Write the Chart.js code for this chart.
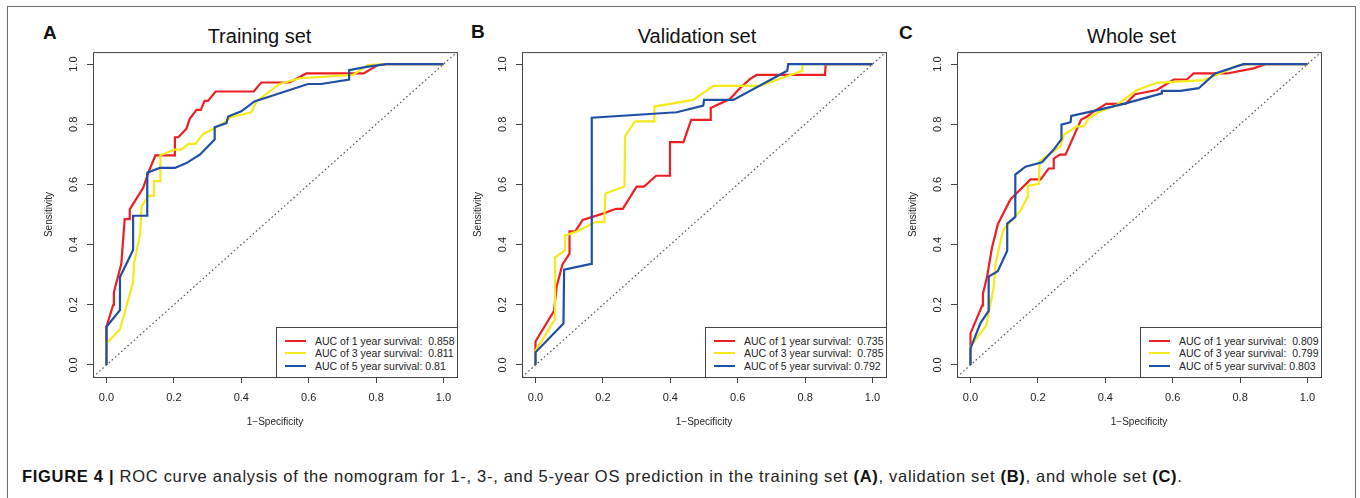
<!DOCTYPE html>
<html>
<head>
<meta charset="utf-8">
<title>ROC curves</title>
<script src="https://cdn.jsdelivr.net/npm/chart.js@4.4.1/dist/chart.umd.min.js"></script>
<style>
  html, body { margin: 0; padding: 0; background: #fff; }
  body {
    width: 1360px; height: 498px; position: relative; overflow: hidden;
    font-family: "Liberation Sans", Arial, Helvetica, sans-serif; color: #111;
  }
  .frame {
    position: absolute; left: 7px; top: 6px; width: 1349px; height: 540px;
    border: 1.5px solid #6e6e6e; box-sizing: border-box;
  }
  .panel { position: absolute; top: 40px; width: 445px; height: 400px; }
  .panel canvas { position: absolute; left: 0; top: 0; }
  .letter { position: absolute; font-weight: bold; font-size: 19px; line-height: 1; color: #111; }
  .title {
    position: absolute; font-size: 20px; line-height: 1; white-space: nowrap;
    transform: translateX(-50%); color: #111;
  }
  .legend {
    position: absolute; width: 182px; height: 51px; box-sizing: border-box;
    border: 1px solid #444; background: #fff;
  }
  .legend .row { position: absolute; left: 0; height: 12.5px; width: 100%; }
  .legend .swatch { position: absolute; left: 8px; top: 5.2px; width: 21px; height: 2.2px; }
  .legend .txt {
    position: absolute; left: 38px; top: 0; font-size: 10.5px; line-height: 12.5px;
    white-space: pre; color: #222;
  }
  .caption {
    position: absolute; left: 22px; top: 468px; font-size: 16.5px; line-height: 1;
    letter-spacing: 0.7px; white-space: nowrap; color: #222;
  }
  .caption b { font-weight: bold; color: #111; }
</style>
</head>
<body>
<div class="frame"></div>

<div class="letter" style="left:43px; top:23px;">A</div>
<div class="letter" style="left:471px; top:22px;">B</div>
<div class="letter" style="left:899px; top:23px;">C</div>

<div class="title" style="left:259.5px; top:26px;">Training set</div>
<div class="title" style="left:697px; top:26px;">Validation set</div>
<div class="title" style="left:1131.5px; top:26px;">Whole set</div>

<div class="panel" id="panelA" style="left:25px;"><canvas id="chartA" width="445" height="400"></canvas></div>
<div class="panel" id="panelB" style="left:454px;"><canvas id="chartB" width="445" height="400"></canvas></div>
<div class="panel" id="panelC" style="left:889px;"><canvas id="chartC" width="445" height="400"></canvas></div>

<div class="caption"><b>FIGURE 4 |</b> ROC curve analysis of the nomogram for 1-, 3-, and 5-year OS prediction in the training set <b>(A)</b>, validation set <b>(B)</b>, and whole set <b>(C)</b>.</div>

<script>
// axis ticks
const xTicks = [0, 0.2, 0.4, 0.6, 0.8, 1.0];
const yTicks = [0, 0.2, 0.4, 0.6, 0.8, 1.0];
const diagX = [-0.04, 1.04];
const diagY = [-0.04, 1.04];

const seriesColors = ['#ec1f22', '#f5e91a', '#1f4fa5'];

// Training set (1-specificity / sensitivity)
const trainX1 = [0, 0, 0.02, 0.022, 0.044, 0.054, 0.067, 0.069, 0.109, 0.126, 0.145, 0.203, 0.203, 0.213, 0.237, 0.247, 0.267, 0.28, 0.291, 0.301, 0.324, 0.437, 0.459, 0.543, 0.593, 0.763, 0.805, 0.83, 1.0];
const trainY1 = [0, 0.127, 0.20, 0.242, 0.336, 0.485, 0.485, 0.517, 0.589, 0.644, 0.697, 0.697, 0.757, 0.757, 0.785, 0.818, 0.848, 0.848, 0.878, 0.878, 0.909, 0.909, 0.939, 0.939, 0.969, 0.969, 0.997, 1.0, 1.0];
const trainX3 = [0, 0, 0.04, 0.079, 0.082, 0.1, 0.104, 0.124, 0.141, 0.141, 0.16, 0.16, 0.203, 0.222, 0.244, 0.264, 0.287, 0.321, 0.354, 0.366, 0.43, 0.445, 0.514, 0.573, 0.731, 0.776, 0.83, 1.0];
const trainY3 = [0, 0.072, 0.118, 0.275, 0.34, 0.435, 0.526, 0.562, 0.562, 0.611, 0.611, 0.697, 0.716, 0.716, 0.735, 0.735, 0.768, 0.787, 0.809, 0.823, 0.84, 0.876, 0.934, 0.953, 0.964, 0.997, 1.0, 1.0];
const trainX5 = [0, 0, 0.04, 0.04, 0.079, 0.079, 0.121, 0.121, 0.158, 0.203, 0.237, 0.277, 0.321, 0.321, 0.356, 0.361, 0.4, 0.439, 0.598, 0.637, 0.72, 0.72, 0.771, 0.83, 1.0];
const trainY5 = [0, 0.127, 0.182, 0.292, 0.382, 0.496, 0.496, 0.639, 0.655, 0.655, 0.671, 0.699, 0.749, 0.79, 0.804, 0.826, 0.843, 0.876, 0.934, 0.934, 0.949, 0.98, 0.991, 1.0, 1.0];
const trainLabels = ['AUC of 1 year survival:  0.858', 'AUC of 3 year survival:  0.811', 'AUC of 5 year survival: 0.81'];

// Validation set
const validX1 = [0, 0, 0, 0.055, 0.063, 0.08, 0.101, 0.101, 0.118, 0.14, 0.202, 0.239, 0.259, 0.3, 0.322, 0.358, 0.399, 0.399, 0.439, 0.462, 0.518, 0.52, 0.577, 0.602, 0.636, 0.656, 0.859, 0.861, 1.0];
const validY1 = [0, 0.053, 0.078, 0.18, 0.262, 0.334, 0.37, 0.444, 0.444, 0.482, 0.504, 0.519, 0.519, 0.593, 0.593, 0.629, 0.629, 0.741, 0.741, 0.815, 0.815, 0.854, 0.884, 0.915, 0.95, 0.964, 0.964, 1.0, 1.0];
const validX3 = [0, 0, 0.058, 0.058, 0.088, 0.088, 0.123, 0.177, 0.204, 0.207, 0.264, 0.266, 0.295, 0.352, 0.353, 0.468, 0.528, 0.666, 0.792, 0.792, 1.0];
const validY3 = [0, 0.047, 0.152, 0.358, 0.381, 0.43, 0.444, 0.475, 0.475, 0.57, 0.593, 0.761, 0.81, 0.81, 0.859, 0.881, 0.928, 0.928, 0.978, 1.0, 1.0];
const validX5 = [0, 0, 0.083, 0.085, 0.165, 0.167, 0.419, 0.498, 0.5, 0.587, 0.747, 0.75, 1.0];
const validY5 = [0, 0.042, 0.138, 0.317, 0.336, 0.822, 0.84, 0.862, 0.881, 0.881, 0.978, 1.0, 1.0];
const validLabels = ['AUC of 1 year survival:  0.735', 'AUC of 3 year survival:  0.785', 'AUC of 5 year survival: 0.792'];

// Whole set
const wholeX1 = [0, 0, 0, 0.035, 0.037, 0.049, 0.064, 0.074, 0.081, 0.119, 0.178, 0.208, 0.232, 0.245, 0.247, 0.265, 0.282, 0.328, 0.346, 0.366, 0.403, 0.46, 0.489, 0.553, 0.603, 0.642, 0.662, 0.761, 0.84, 0.875, 1.0];
const wholeY1 = [0, 0.066, 0.105, 0.198, 0.237, 0.292, 0.391, 0.435, 0.468, 0.551, 0.617, 0.617, 0.653, 0.653, 0.686, 0.699, 0.699, 0.815, 0.826, 0.843, 0.868, 0.868, 0.9, 0.914, 0.949, 0.949, 0.969, 0.969, 0.986, 1.0, 1.0];
const wholeX3 = [0, 0, 0.047, 0.069, 0.074, 0.094, 0.099, 0.148, 0.168, 0.17, 0.203, 0.205, 0.232, 0.267, 0.277, 0.316, 0.336, 0.351, 0.385, 0.435, 0.494, 0.553, 0.692, 0.741, 0.795, 0.84, 1.0];
const wholeY3 = [0, 0.061, 0.132, 0.259, 0.336, 0.435, 0.452, 0.512, 0.556, 0.595, 0.602, 0.677, 0.699, 0.727, 0.765, 0.793, 0.793, 0.82, 0.843, 0.865, 0.914, 0.938, 0.947, 0.969, 0.997, 1.0, 1.0];
const wholeX5 = [0, 0, 0.03, 0.054, 0.054, 0.081, 0.109, 0.109, 0.133, 0.133, 0.163, 0.212, 0.247, 0.27, 0.27, 0.297, 0.299, 0.38, 0.455, 0.568, 0.568, 0.623, 0.677, 0.726, 0.81, 1.0];
const wholeY5 = [0, 0.055, 0.14, 0.18, 0.294, 0.312, 0.38, 0.47, 0.492, 0.633, 0.659, 0.674, 0.716, 0.751, 0.799, 0.807, 0.828, 0.848, 0.868, 0.903, 0.911, 0.911, 0.92, 0.969, 1.0, 1.0];
const wholeLabels = ['AUC of 1 year survival:  0.809', 'AUC of 3 year survival:  0.799', 'AUC of 5 year survival: 0.803'];

const fontFamily = '"Liberation Sans", Arial, Helvetica, sans-serif';

const toPoints = (xs, ys) => xs.map((x, i) => ({x: x, y: ys[i]}));

// frame round the plotting region, like R's box()
const plotBox = {
    id: 'plotBox',
    afterDraw(chart) {
        const ctx = chart.ctx;
        const a = chart.chartArea;
        ctx.save();
        ctx.strokeStyle = '#444';
        ctx.lineWidth = 1;
        ctx.strokeRect(a.left + 0.5, a.top + 0.5, a.right - a.left, a.bottom - a.top);
        ctx.restore();
    }
};

// html legend in the lower right corner of the plot
const cornerLegend = {
    id: 'cornerLegend',
    afterRender(chart, args, opts) {
        if (chart.$legendDone) return;
        chart.$legendDone = true;
        const a = chart.chartArea;
        const box = document.createElement('div');
        box.className = 'legend';
        box.style.left = (a.right + 1 - 182) + 'px';
        box.style.top = (a.bottom + 1 - 51) + 'px';
        opts.labels.forEach((label, i) => {
            const row = document.createElement('div');
            row.className = 'row';
            row.style.top = (6.5 + 12.5 * i) + 'px';
            row.innerHTML = `<div class="swatch" style="background:${seriesColors[i]}"></div><div class="txt">${label}</div>`;
            box.appendChild(row);
        });
        chart.canvas.parentNode.appendChild(box);
    }
};

function makeChart(id, xs1, ys1, xs3, ys3, xs5, ys5, labels) {
    const lineSet = (xs, ys, idx, order) => ({
        data: toPoints(xs, ys),
        borderColor: seriesColors[idx],
        borderWidth: 2.2,
        pointRadius: 0,
        tension: 0,
        fill: false,
        order: order
    });
    return new Chart(document.getElementById(id), {
        type: 'line',
        data: {
            datasets: [
                lineSet(xs1, ys1, 0, 2),
                lineSet(xs3, ys3, 1, 1),
                lineSet(xs5, ys5, 2, 0),
                {
                    data: toPoints(diagX, diagY),
                    borderColor: '#555',
                    borderWidth: 1.2,
                    borderDash: [1.6, 2.6],
                    pointRadius: 0,
                    fill: false,
                    order: 3
                }
            ]
        },
        options: {
            responsive: false,
            animation: false,
            devicePixelRatio: 1,
            layout: {padding: {top: 11, right: 13, left: 0, bottom: 0}},
            plugins: {
                legend: {display: false},
                tooltip: {enabled: false},
                cornerLegend: {labels: labels}
            },
            scales: {
                x: {
                    type: 'linear',
                    min: -0.04,
                    max: 1.04,
                    afterBuildTicks: s => { s.ticks = xTicks.map(v => ({value: v})); },
                    afterFit: s => { s.height = 63; },
                    border: {display: false},
                    grid: {drawOnChartArea: false, tickLength: 6, tickColor: '#444', lineWidth: 1},
                    ticks: {
                        padding: 8, autoSkip: false, maxRotation: 0, color: '#222',
                        font: {size: 11, family: fontFamily},
                        callback: v => v.toFixed(1)
                    },
                    title: {
                        display: true, text: '1\u2212Specificity', color: '#222',
                        font: {size: 10, family: fontFamily},
                        padding: {top: 0, bottom: 12}
                    }
                },
                y: {
                    type: 'linear',
                    min: -0.04,
                    max: 1.04,
                    afterBuildTicks: s => { s.ticks = yTicks.map(v => ({value: v})); },
                    afterFit: s => { s.width = 68; },
                    border: {display: false},
                    grid: {drawOnChartArea: false, tickLength: 6, tickColor: '#444', lineWidth: 1},
                    ticks: {
                        padding: 5.5, autoSkip: false, minRotation: 90, maxRotation: 90,
                        crossAlign: 'center', color: '#222',
                        font: {size: 11, family: fontFamily},
                        callback: v => v.toFixed(1)
                    },
                    title: {
                        display: true, text: 'Sensitivity', color: '#222',
                        font: {size: 10, family: fontFamily},
                        padding: {top: 18, bottom: 0}
                    }
                }
            }
        },
        plugins: [plotBox, cornerLegend]
    });
}

makeChart('chartA', trainX1, trainY1, trainX3, trainY3, trainX5, trainY5, trainLabels);
makeChart('chartB', validX1, validY1, validX3, validY3, validX5, validY5, validLabels);
makeChart('chartC', wholeX1, wholeY1, wholeX3, wholeY3, wholeX5, wholeY5, wholeLabels);
</script>
</body>
</html>
